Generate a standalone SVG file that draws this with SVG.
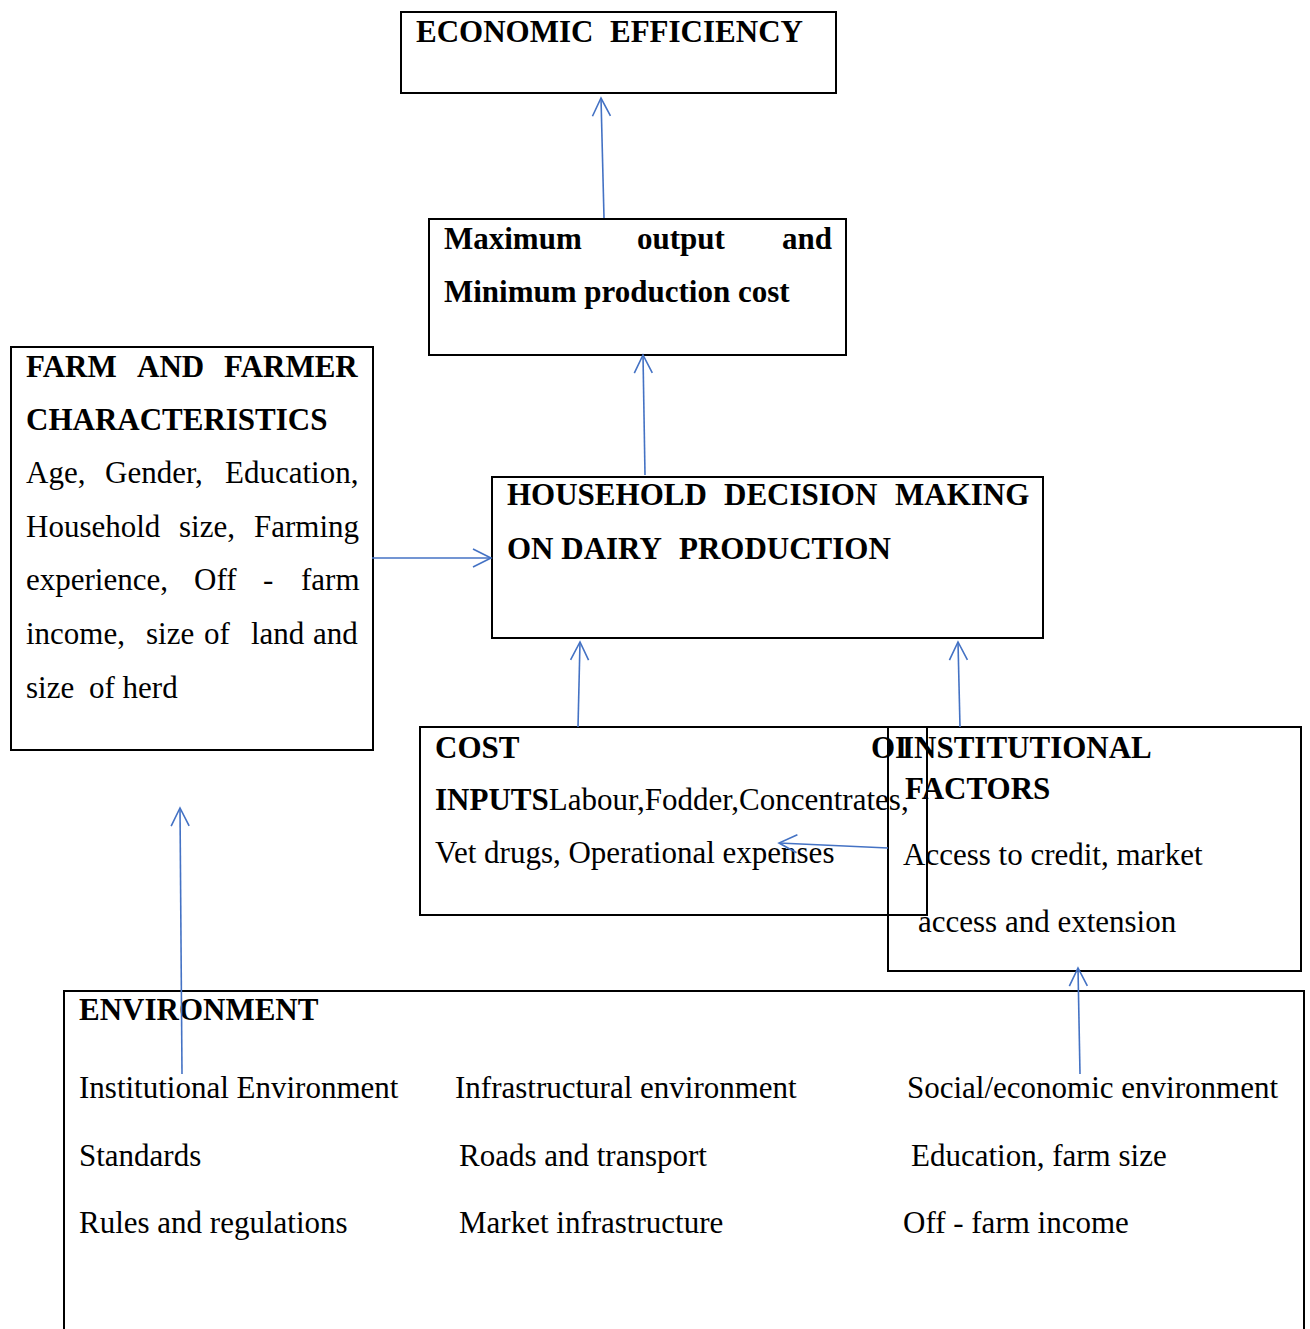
<svg xmlns="http://www.w3.org/2000/svg" width="1310" height="1329" viewBox="0 0 1310 1329">
<style>
.box{fill:none;stroke:#000;stroke-width:2}
text{font-family:"Liberation Serif","Times New Roman",serif;font-size:31px;fill:#000}
.b{font-weight:bold}
.c{fill:none;stroke:#4472C4;stroke-width:1.6}
</style>
<defs>
<marker id="ah" markerUnits="userSpaceOnUse" markerWidth="24" markerHeight="24" viewBox="-20 -12 24 24" refX="0" refY="0" orient="auto">
<path d="M-18,-9 L0,0 L-18,9" fill="none" stroke="#4472C4" stroke-width="1.6"/>
</marker>
</defs>
<rect width="1310" height="1329" fill="#fff"/>

<g id="economic-efficiency">
<rect class="box" x="401" y="12" width="435" height="81"/>
<text class="b" y="42"><tspan x="416">ECONOMIC</tspan><tspan x="610">EFFICIENCY</tspan></text>
</g>

<g id="max-output">
<rect class="box" x="429" y="219" width="417" height="136"/>
<text class="b" y="249"><tspan x="444">Maximum</tspan><tspan x="637">output</tspan><tspan x="782">and</tspan></text>
<text class="b" x="444" y="302">Minimum production cost</text>
</g>

<g id="farm-farmer">
<rect class="box" x="11" y="347" width="362" height="403"/>
<text class="b" y="377"><tspan x="26">FARM</tspan><tspan x="137">AND</tspan><tspan x="224">FARMER</tspan></text>
<text class="b" x="26" y="430">CHARACTERISTICS</text>
<text y="483"><tspan x="26">Age,</tspan><tspan x="105">Gender,</tspan><tspan x="225">Education,</tspan></text>
<text y="537"><tspan x="26">Household</tspan><tspan x="179">size,</tspan><tspan x="254">Farming</tspan></text>
<text y="590"><tspan x="26">experience,</tspan><tspan x="194">Off</tspan><tspan x="263">-</tspan><tspan x="301">farm</tspan></text>
<text y="644"><tspan x="26">income,</tspan><tspan x="146">size</tspan><tspan x="204">of</tspan><tspan x="251">land</tspan><tspan x="313">and</tspan></text>
<text y="698"><tspan x="26">size</tspan><tspan x="89">of herd</tspan></text>
</g>

<g id="household-decision">
<rect class="box" x="492" y="477" width="551" height="161"/>
<text class="b" y="505"><tspan x="507">HOUSEHOLD</tspan><tspan x="724">DECISION</tspan><tspan x="895">MAKING</tspan></text>
<text class="b" y="559"><tspan x="507">ON DAIRY</tspan><tspan x="679">PRODUCTION</tspan></text>
</g>

<g id="cost-inputs">
<rect class="box" x="420" y="727" width="507" height="188"/>
<text class="b" x="435" y="758">COST</text>
<text class="b" x="871" y="758">OI</text>
<text x="435" y="810"><tspan class="b">INPUTS</tspan>Labour,Fodder,Concentrates,</text>
<text x="435" y="863">Vet drugs, Operational expenses</text>
</g>

<g id="institutional-factors">
<rect class="box" x="888" y="727" width="413" height="244"/>
<text class="b" x="902" y="758">INSTITUTIONAL</text>
<text class="b" x="905" y="799">FACTORS</text>
<text x="903" y="865">Access to credit, market</text>
<text x="918" y="932">access and extension</text>
</g>

<g id="environment">
<path class="box" d="M64,1335 V991 H1304 V1335"/>
<text class="b" x="79" y="1020">ENVIRONMENT</text>
<text x="79" y="1098">Institutional Environment</text>
<text x="455" y="1098">Infrastructural environment</text>
<text x="907" y="1098">Social/economic environment</text>
<text x="79" y="1166">Standards</text>
<text x="459" y="1166">Roads and transport</text>
<text x="911" y="1166">Education, farm size</text>
<text x="79" y="1233">Rules and regulations</text>
<text x="459" y="1233">Market infrastructure</text>
<text x="903" y="1233">Off - farm income</text>
</g>

<g id="connectors">
<path class="c" d="M604,218 L601,98" marker-end="url(#ah)"/>
<path class="c" d="M645,475 L643,355" marker-end="url(#ah)"/>
<path class="c" d="M372,558 L491,558" marker-end="url(#ah)"/>
<path class="c" d="M578,727 L580,642" marker-end="url(#ah)"/>
<path class="c" d="M960,727 L958,642" marker-end="url(#ah)"/>
<path class="c" d="M888,848 L779,843" marker-end="url(#ah)"/>
<path class="c" d="M182,1074 L180,808" marker-end="url(#ah)"/>
<path class="c" d="M1080,1074 L1078,968" marker-end="url(#ah)"/>
</g>
</svg>
